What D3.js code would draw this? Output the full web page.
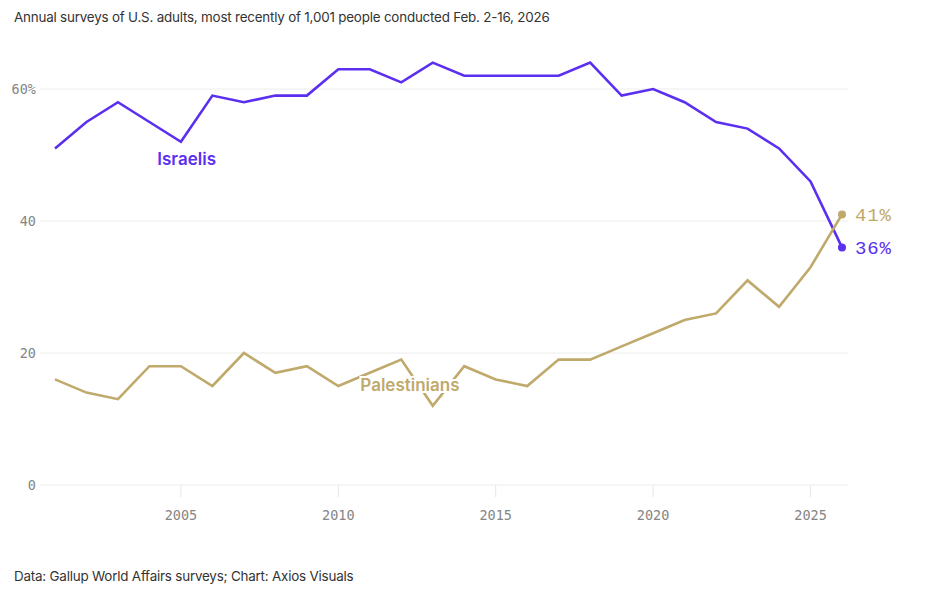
<!DOCTYPE html>
<meta charset="utf-8">
<style>
body { margin: 0; background: #fff; }
.grid line { stroke: #ececec; }
.axis text { font-family: "DejaVu Sans Mono", monospace; fill: #858585; font-size: 13.5px; }
.note { font-family: Inter, "Noto Sans", sans-serif; font-size: 13.4px; fill: #333; letter-spacing: -0.2px; }
</style>
<body></body>
<script src="https://cdn.jsdelivr.net/npm/d3@7"></script>
<script>

var years = [2001,2002,2003,2004,2005,2006,2007,2008,2009,2010,2011,2012,2013,
             2014,2015,2016,2017,2018,2019,2020,2021,2022,2023,2024,2025,2026];
var israelis = [51,55,58,55,52,59,58,59,59,63,63,61,64,62,62,62,62,64,59,60,58,55,54,51,46,36];
var palestinians = [16,14,13,18,18,15,20,17,18,15,17,19,12,18,16,15,19,19,21,23,25,26,31,27,33,41];
var yTicks = [0, 20, 40, 60];
var xTicks = [2005, 2010, 2015, 2020, 2025];

var purple = "#5b2ff0", gold = "#bfa96b";

var width = 940, height = 597;
var svg = d3.select("body").append("svg")
    .attr("width", width)
    .attr("height", height);

var x = d3.scaleLinear().domain([2001, 2026]).range([55, 842]);
var y = d3.scaleLinear().domain([0, 60]).range([485, 89]);

// gridlines + y labels
var grid = svg.append("g").attr("class", "grid");
grid.selectAll("line").data(yTicks).enter().append("line")
    .attr("x1", 40).attr("x2", 848)
    .attr("y1", function(d) { return y(d); })
    .attr("y2", function(d) { return y(d); });

var yAx = svg.append("g").attr("class", "axis");
yAx.selectAll("text").data(yTicks).enter().append("text")
    .attr("x", 36)
    .attr("y", function(d) { return y(d); })
    .attr("dy", "0.35em")
    .attr("text-anchor", "end")
    .text(function(d) { return d == 60 ? "60%" : d; });

// x axis
var xAx = svg.append("g").attr("class", "axis");
xAx.selectAll("line").data(xTicks).enter().append("line")
    .attr("x1", function(d) { return x(d); })
    .attr("x2", function(d) { return x(d); })
    .attr("y1", 485).attr("y2", 497)
    .attr("stroke", "#e6e6e6");
xAx.selectAll("text").data(xTicks).enter().append("text")
    .attr("x", function(d) { return x(d); })
    .attr("y", 515)
    .attr("dy", "0.35em")
    .attr("text-anchor", "middle")
    .text(function(d) { return d; });

var line = d3.line()
    .x(function(d) { return x(d[0]); })
    .y(function(d) { return y(d[1]); });

var series = [
  {name: "Israelis", vals: israelis, color: purple},
  {name: "Palestinians", vals: palestinians, color: gold}
];

series.forEach(function(s) {
  var pts = years.map(function(yr, i) { return [yr, s.vals[i]]; });
  svg.append("path")
      .datum(pts)
      .attr("fill", "none")
      .attr("stroke", s.color)
      .attr("stroke-width", 2.6)
      .attr("d", line);
  var last = pts[pts.length - 1];
  svg.append("circle")
      .attr("cx", x(last[0]))
      .attr("cy", y(last[1]))
      .attr("r", 4)
      .attr("fill", s.color);
  svg.append("text")
      .attr("x", x(last[0]) + 13)
      .attr("y", y(last[1]))
      .attr("dy", "0.35em")
      .attr("font-family", "Liberation Mono, monospace")
      .attr("font-size", 19)
      .attr("letter-spacing", 0.8)
      .attr("fill", s.color)
      .text(last[1] + "%");
});

// series labels
svg.append("text")
    .attr("x", x(2004.25)).attr("y", 165)
    .attr("font-family", "Inter, sans-serif")
    .attr("font-weight", 600)
    .attr("font-size", 17)
    .attr("fill", purple)
    .text("Israelis");

svg.append("text")
    .attr("x", x(2010.7)).attr("y", 391)
    .attr("font-family", "Inter, sans-serif")
    .attr("font-weight", 600)
    .attr("font-size", 17)
    .attr("fill", gold)
    .attr("stroke", "#fff")
    .attr("stroke-width", 4)
    .attr("paint-order", "stroke")
    .text("Palestinians");

svg.append("text").attr("class", "note")
    .attr("x", 14).attr("y", 22)
    .text("Annual surveys of U.S. adults, most recently of 1,001 people conducted Feb. 2-16, 2026");

svg.append("text").attr("class", "note")
    .attr("x", 14).attr("y", 581)
    .text("Data: Gallup World Affairs surveys; Chart: Axios Visuals");

</script>
